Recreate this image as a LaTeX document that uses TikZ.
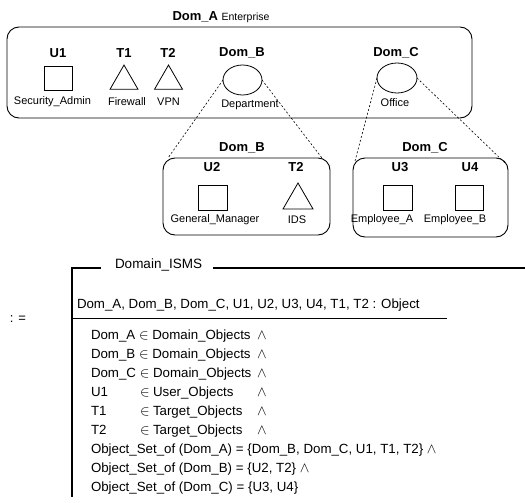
\documentclass[tikz,border=0pt]{standalone}
\usepackage{fontspec}
\setmainfont{Liberation Sans}
\usetikzlibrary{shapes.geometric}

\begin{document}
\begin{tikzpicture}[x=1pt,y=-1pt,
  every node/.style={inner sep=0pt, outer sep=0pt},
  lbl/.style={font=\fontsize{13}{15}\selectfont\bfseries},
  captxt/.style={font=\fontsize{11}{13}\selectfont},
  ztext/.style={font=\fontsize{13.3}{16}\selectfont, anchor=base west},
  domainbox/.style={draw, line width=0.9pt, rounded corners=12pt},
  userobj/.style={draw, line width=0.8pt, minimum width=28pt, minimum height=24pt},
  targetobj/.style={draw, line width=0.8pt, regular polygon, regular polygon sides=3},
  domobj/.style={draw, line width=0.8pt, ellipse, minimum width=39pt, minimum height=30pt},
  zoomline/.style={line width=0.6pt, dash pattern=on 2pt off 2pt},
  schemaline/.style={line width=1.2pt}
]
\useasboundingbox (0,0) rectangle (525,503);

% ---------- Dom_A: the enterprise domain ----------
\node (domA) [domainbox, minimum width=465pt, minimum height=91pt] at (239.5,72.5) {};
\node (domAtitle) at (221,17) {\fontsize{13}{15}\selectfont\bfseries Dom\_A \fontsize{10.5}{12}\selectfont\mdseries Enterprise};

\node (u1lbl) [lbl] at (58,53) {U1};
\node (u1) [userobj] at (58.5,78.5) {};
\node (u1cap) [captxt] at (52.5,102) {Security\_Admin};

\node (t1lbl) [lbl] at (124,53) {T1};
\node (t1) [targetobj, minimum size=32.3pt] at (124,81.2) {};
\node (t1cap) [captxt] at (127,102) {Firewall};

\node (t2lbl) [lbl] at (168,53) {T2};
\node (t2) [targetobj, minimum size=32.3pt] at (168.5,81.2) {};
\node (t2cap) [captxt] at (168.5,102) {VPN};

\node (dombLbl) [lbl] at (242,53) {Dom\_B};
\node (domb) [domobj] at (242.5,80) {};
\node (dombcap) [captxt] at (250,105) {Department};

\node (domcLbl) [lbl] at (396,53) {Dom\_C};
\node (domc) [domobj, minimum width=40pt] at (397,78) {};
\node (domccap) [captxt] at (395,103) {Office};

% ---------- Dom_B expanded ----------
\node (boxB) [domainbox, minimum width=167pt, minimum height=77pt] at (246.5,196.5) {};
\node (boxBlbl) [lbl] at (242,148) {Dom\_B};
\node (u2lbl) [lbl] at (212,167) {U2};
\node (u2) [userobj, minimum width=29pt, minimum height=25pt] at (212.5,197.5) {};
\node (u2cap) [captxt] at (215,220) {General\_Manager};
\node (t2blbl) [lbl] at (296,167) {T2};
\node (t2b) [targetobj, minimum size=34.6pt] at (298,200.3) {};
\node (t2bcap) [captxt] at (297,220) {IDS};

% ---------- Dom_C expanded ----------
\node (boxC) [domainbox, minimum width=155pt, minimum height=79pt] at (430.5,197.5) {};
\node (boxClbl) [lbl] at (425,148) {Dom\_C};
\node (u3lbl) [lbl] at (400,167) {U3};
\node (u3) [userobj, minimum width=29pt, minimum height=25pt] at (397.5,197.5) {};
\node (u3cap) [captxt] at (382,220) {Employee\_A};
\node (u4lbl) [lbl] at (470,167) {U4};
\node (u4) [userobj, minimum width=28pt, minimum height=25pt] at (469,197.5) {};
\node (u4cap) [captxt] at (455,220) {Employee\_B};

% ---------- zoom connectors ----------
\draw[zoomline] (domb.west) -- ([xshift=5pt]boxB.north west);
\draw[zoomline] (domb.east) -- ([xshift=-8pt]boxB.north east);
\draw[zoomline] (domc.west) -- ([xshift=2pt,yshift=-3pt]boxC.north west);
\draw[zoomline] (domc.east) -- ([xshift=-3pt,yshift=-5pt]boxC.north east);

% ---------- Z schema ----------
\node (defeq) at (18,319) {\fontsize{13}{15}\selectfont : =};
\node (schemaname) [font=\fontsize{13.5}{16}\selectfont, anchor=west] at (115,265) {Domain\_ISMS};
\draw[schemaline] (101,268) -- (72,268) -- (72,497);
\draw[schemaline] (213,268) -- (525,268);
\draw[line width=0.9pt] (72,318) -- (447,318);

\node (decl) [ztext] at (77,308) {Dom\_A, Dom\_B, Dom\_C, U1, U2, U3, U4, T1, T2 : Object};

\foreach \nm/\yy in {Dom\_A/339,Dom\_B/358,Dom\_C/377}{
  \node [ztext] at (91,\yy) {\nm{} $\in$ Domain\_Objects};
  \node [ztext] at (257,\yy) {$\wedge$};
}
\node (p4a) [ztext] at (91,396) {U1};
\node (p4b) [ztext] at (140,396) {$\in$};
\node (p4c) [ztext] at (153,396) {User\_Objects};
\node (p4d) [ztext] at (257,396) {$\wedge$};
\node (p5a) [ztext] at (91,415) {T1};
\node (p5b) [ztext] at (140,415) {$\in$};
\node (p5c) [ztext] at (153,415) {Target\_Objects};
\node (p5d) [ztext] at (257,415) {$\wedge$};
\node (p6a) [ztext] at (91,434) {T2};
\node (p6b) [ztext] at (140,434) {$\in$};
\node (p6c) [ztext] at (153,434) {Target\_Objects};
\node (p6d) [ztext] at (257,434) {$\wedge$};
\node (p7) [ztext] at (91,453) {Object\_Set\_of (Dom\_A) = \{Dom\_B, Dom\_C, U1, T1, T2\} $\wedge$};
\node (p8) [ztext] at (91,472) {Object\_Set\_of (Dom\_B) = \{U2, T2\} $\wedge$};
\node (p9) [ztext] at (91,491) {Object\_Set\_of (Dom\_C) = \{U3, U4\}};
\end{tikzpicture}
\end{document}
